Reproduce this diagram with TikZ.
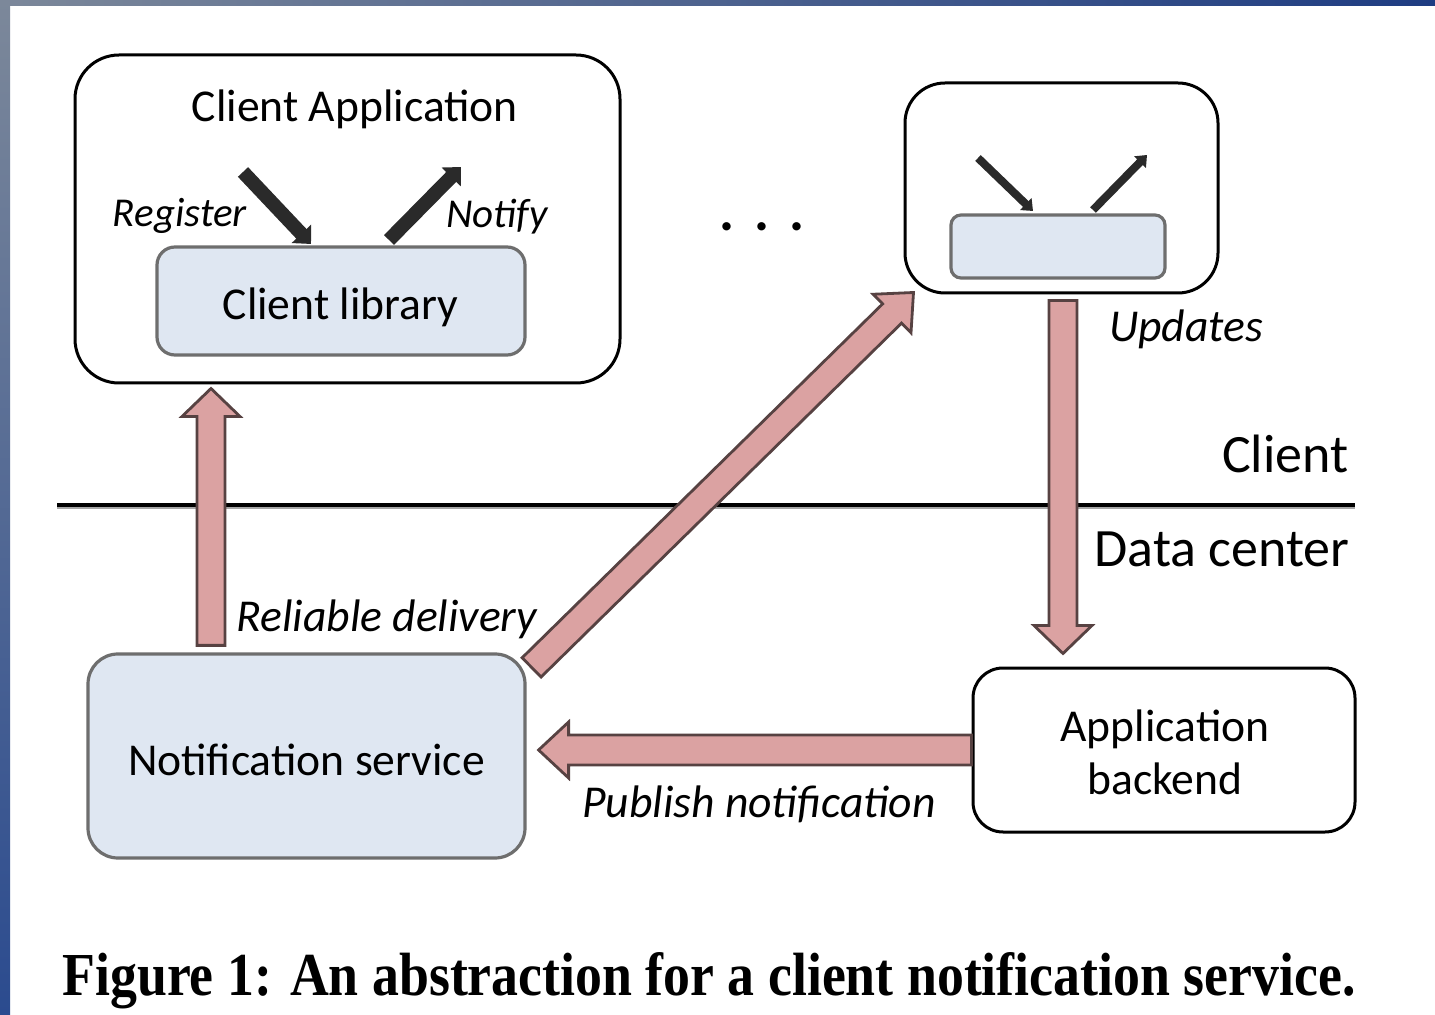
\documentclass[tikz,border=0pt]{standalone}
\usepackage{fontspec}
\usepackage{graphicx}
\setmainfont{Carlito}
\newfontfamily\capfont{Liberation Serif}
\usetikzlibrary{calc,arrows.meta}

\definecolor{boxblue}{HTML}{DFE7F2}
\definecolor{boxgray}{HTML}{6E6E6E}
\definecolor{pinkfill}{HTML}{DBA2A2}
\definecolor{pinkedge}{HTML}{574242}
\definecolor{darkarrow}{HTML}{2A2A2A}
\definecolor{frameA}{HTML}{7C889A}
\definecolor{frameB}{HTML}{1E3C82}
\definecolor{frameC}{HTML}{2B4B8F}

% block arrow: style, from, to, half shaft width, half head width, head length
\newcommand\blockarrow[6]{%
  \coordinate (ba-h) at ($(#3)!#6!(#2)$);
  \draw[#1] ($(#2)!#4!90:(#3)$) -- ($(ba-h)!#4!90:(#3)$) -- ($(ba-h)!#5!90:(#3)$)
    -- (#3) -- ($(ba-h)!#5!-90:(#3)$) -- ($(ba-h)!#4!-90:(#3)$)
    -- ($(#2)!#4!-90:(#3)$) -- cycle;
}

\tikzset{
  outerbox/.style={draw=black, line width=1.5pt, fill=white},
  libbox/.style={draw=boxgray, line width=1.6pt, fill=boxblue},
  pinkarr/.style={fill=pinkfill, draw=pinkedge, line width=1.4pt, line join=miter},
  darkarr/.style={draw=darkarrow, line width=7pt, -{Triangle[length=7pt,width=13pt]}},
  thinarr/.style={draw=darkarrow, line width=4pt, -{Triangle[length=5pt,width=8pt]}},
  txt/.style={inner sep=0pt, font=\fontsize{22.8}{26.5}\selectfont},
  itxt/.style={inner sep=0pt, font=\fontsize{22.8}{26.5}\selectfont\itshape},
  sitxt/.style={inner sep=0pt, font=\fontsize{20.5}{24}\selectfont\itshape},
  bigtxt/.style={inner sep=0pt, font=\fontsize{27}{32}\selectfont},
}

\begin{document}
\begin{tikzpicture}[x=0.5pt, y=-0.5pt]
\useasboundingbox (0,0) rectangle (1435,1015);
\fill[white] (0,0) rectangle (1435,1015);
% slide frame
\shade[left color=frameA, right color=frameB] (0,0) rectangle (1435,6);
\shade[top color=frameA, bottom color=frameC] (0,0) rectangle (10,1015);

% client / data center boundary
\draw[line width=1pt, gray!70] (57,508) -- (1355,508);
\draw[line width=2.2pt, black] (57,505) -- (1355,505);
\node[bigtxt, anchor=base east] (lclient) at (1349,473) {Client};
\node[bigtxt, anchor=base east] (ldc) at (1350,567) {Data center};

% client application
\node[outerbox, minimum width=272.5pt, minimum height=164pt, rounded corners=22pt] (ca) at (347.5,219) {};
\node[txt, anchor=base] (cat) at (355,122) {Client Application};
\node[libbox, minimum width=184pt, minimum height=54pt, rounded corners=9pt] (cl) at (341,301) {};
\node[txt, anchor=base] (clt) at (340.5,320) {Client library};
\coordinate (reg-s) at (243,172);
\coordinate (reg-e) at (311,244);
\coordinate (not-s) at (389,240);
\coordinate (not-e) at (461,167);
\draw[darkarr] (reg-s) -- (reg-e);
\draw[darkarr] (not-s) -- (not-e);
\node[sitxt, anchor=base] (lreg) at (180,227) {Register};
\node[sitxt, anchor=base] (lnot) at (497,228) {Notify};

% another client
\node[outerbox, minimum width=156.5pt, minimum height=105pt, rounded corners=20pt] (rb) at (1061.5,188) {};
\node[libbox, minimum width=107pt, minimum height=31.5pt, rounded corners=5pt] (rl) at (1058,246.5) {};
\coordinate (r1-s) at (978,158);
\coordinate (r1-e) at (1033,211);
\coordinate (r2-s) at (1093,210);
\coordinate (r2-e) at (1147,155);
\draw[thinarr] (r1-s) -- (r1-e);
\draw[thinarr] (r2-s) -- (r2-e);

\node[inner sep=0pt, font=\fontsize{28}{30}\selectfont\bfseries, anchor=base] (dots) at (762,231) {.\hspace{10pt}.\hspace{10pt}.};

% data center side
\node[libbox, minimum width=218.5pt, minimum height=102pt, rounded corners=15pt] (ns) at (306.5,756) {};
\node[txt, anchor=base] (nst) at (306.5,775) {Notification service};
\node[outerbox, minimum width=191pt, minimum height=82pt, rounded corners=15pt] (ab) at (1164,750) {};
\node[txt, align=center] (abt) at (1165,752) {Application\\backend};

% flows
\coordinate (up-s) at ($(ns.north -| 211,0)+(0,-7)$);
\coordinate (up-e) at ($(ca.south -| 211,0)+(0,4)$);
\blockarrow{pinkarr}{up-s}{up-e}{7pt}{14.5pt}{14pt}
\coordinate (dg-s) at ($(ns.north east)+(5,15)$);
\coordinate (dg-e) at ($(rb.south west)+(10,-2)$);
\blockarrow{pinkarr}{dg-s}{dg-e}{6.75pt}{13.5pt}{15pt}
\coordinate (up2-s) at ($(rb.south -| 1063,0)+(0,6)$);
\coordinate (up2-e) at ($(ab.north -| 1063,0)+(0,-13)$);
\blockarrow{pinkarr}{up2-s}{up2-e}{7pt}{14.5pt}{14pt}
\coordinate (pb-s) at (ab.west);
\coordinate (pb-e) at ($(ns.east)+(12,-6)$);
\blockarrow{pinkarr}{pb-s}{pb-e}{7.5pt}{14pt}{15pt}

\node[itxt, anchor=base] (lrel) at (387,632) {Reliable delivery};
\node[itxt, anchor=base] (lupd) at (1186,342) {Updates};
\node[itxt, anchor=base] (lpub) at (759,817) {Publish notification};

% caption
\node[inner sep=0pt, anchor=base west] (cap) at (62,995)
  {\resizebox{646.5pt}{21.5pt}{\capfont\bfseries Figure 1: An abstraction for a client notification service.}};
\end{tikzpicture}
\end{document}
